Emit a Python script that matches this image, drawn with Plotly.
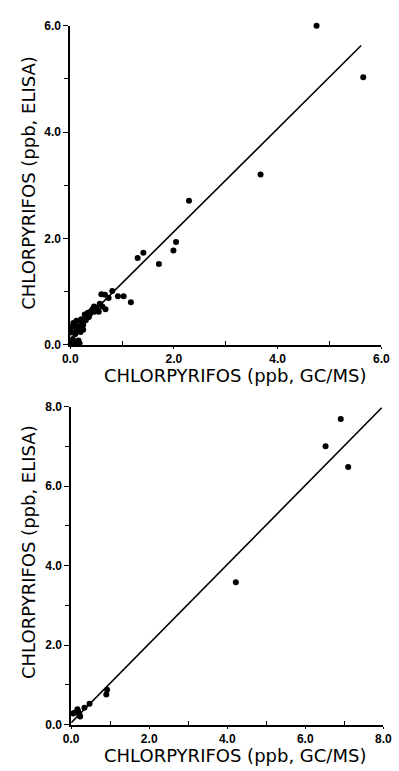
import plotly.graph_objects as go

# ---- data ----
top_x = [4.75, 5.65, 3.67, 2.29, 2.04, 1.99, 1.71, 1.41, 1.30, 1.17, 1.03, 0.92,
         0.81, 0.74, 0.67, 0.60, 0.68, 0.57, 0.46, 0.43, 0.47, 0.34, 0.28, 0.31,
         0.21, 0.12, 0.06, 0.09, 0.25, 0.19, 0.25, 0.12, 0.03, 0.05, 0.16, 0.09,
         0.01, 0.18, 0.38, 0.52, 0.40, 0.22, 0.15, 0.30, 0.36, 0.50, 0.55, 0.62,
         0.05, 0.02, 0.10, 0.20]
top_y = [6.00, 5.03, 3.20, 2.71, 1.93, 1.77, 1.52, 1.73, 1.63, 0.80, 0.91, 0.91,
         1.01, 0.88, 0.94, 0.95, 0.67, 0.77, 0.72, 0.67, 0.62, 0.60, 0.57, 0.51,
         0.48, 0.45, 0.41, 0.37, 0.37, 0.31, 0.28, 0.28, 0.23, 0.11, 0.08, 0.03,
         0.02, 0.03, 0.58, 0.66, 0.63, 0.42, 0.35, 0.46, 0.52, 0.70, 0.62, 0.72,
         0.35, 0.33, 0.20, 0.24]

bot_x = [6.91, 6.52, 7.10, 4.22, 0.92, 0.90, 0.47, 0.34, 0.16, 0.09, 0.21, 0.23,
         0.18, 0.05]
bot_y = [7.69, 7.00, 6.48, 3.58, 0.88, 0.76, 0.53, 0.43, 0.39, 0.30, 0.25, 0.21,
         0.33, 0.28]

top_fit = [0.19, 0.969]      # intercept, slope
top_fit_x = [0.0, 5.61]
bot_fit = [0.05, 0.995]
bot_fit_x = [0.0, 7.96]

top_ticks = [0, 2, 4, 6]
top_ticktext = ["0.0", "2.0", "4.0", "6.0"]
top_minor = [1, 3, 5]
bot_ticks = [0, 2, 4, 6, 8]
bot_ticktext = ["0.0", "2.0", "4.0", "6.0", "8.0"]
bot_minor = [1, 3, 5, 7]

x_title = "CHLORPYRIFOS (ppb, GC/MS)"
y_title = "CHLORPYRIFOS (ppb, ELISA)"

W, H = 399, 771

fig = go.Figure()

marker = dict(color="black", size=6, line=dict(width=0))
fig.add_trace(go.Scatter(x=top_x, y=top_y, mode="markers", marker=marker,
                         xaxis="x", yaxis="y", cliponaxis=False, showlegend=False))
fig.add_trace(go.Scatter(x=top_fit_x, y=[top_fit[0] + top_fit[1] * v for v in top_fit_x],
                         mode="lines", line=dict(color="black", width=1.6),
                         xaxis="x", yaxis="y", cliponaxis=False, showlegend=False))
fig.add_trace(go.Scatter(x=bot_x, y=bot_y, mode="markers", marker=marker,
                         xaxis="x2", yaxis="y2", cliponaxis=False, showlegend=False))
fig.add_trace(go.Scatter(x=bot_fit_x, y=[bot_fit[0] + bot_fit[1] * v for v in bot_fit_x],
                         mode="lines", line=dict(color="black", width=1.6),
                         xaxis="x2", yaxis="y2", cliponaxis=False, showlegend=False))

tickfont = dict(family="Liberation Sans, Arial", size=12, color="black", weight="bold")


def axis(domain, rng, tickvals, ticktext, minor, anchor, is_x):
    return dict(
        domain=domain, range=rng, anchor=anchor,
        showline=True, linecolor="black", linewidth=1.6,
        showgrid=False, zeroline=False,
        ticks="outside", ticklen=2 if is_x else 5, tickwidth=1.3, tickcolor="black",
        tickvals=tickvals, ticktext=ticktext, tickfont=tickfont,
        minor=dict(tickvals=minor, ticks="inside" if is_x else "outside",
                   ticklen=4, tickwidth=1.2, tickcolor="black", showgrid=False),
        fixedrange=True,
    )


fig.update_layout(
    width=W, height=H,
    margin=dict(l=0, r=0, t=0, b=0),
    paper_bgcolor="white", plot_bgcolor="white",
    xaxis=axis([65 / W, 390 / W], [0, 6], top_ticks, top_ticktext, top_minor, "y", True),
    yaxis=axis([1 - 344 / H, 1 - 19 / H], [0, 6], top_ticks, top_ticktext, top_minor, "x", False),
    xaxis2=axis([66 / W, 392 / W], [0, 8], bot_ticks, bot_ticktext, bot_minor, "y2", True),
    yaxis2=axis([1 - 731 / H, 1 - 407 / H], [0, 8], bot_ticks, bot_ticktext, bot_minor, "x2", False),
)

title_font = dict(family="DejaVu Sans", size=18, color="black")
for (cx, cy, txt, ang) in [
    (237, 375, x_title, 0),
    (237, 762, x_title, 0),
    (22, 179, y_title, -90),
    (22, 555, y_title, -90),
]:
    fig.add_annotation(x=cx / W, y=1 - cy / H, xref="paper", yref="paper",
                       text=txt, textangle=ang, showarrow=False, font=title_font,
                       xanchor="center", yanchor="middle")

fig.write_html("out.html")
